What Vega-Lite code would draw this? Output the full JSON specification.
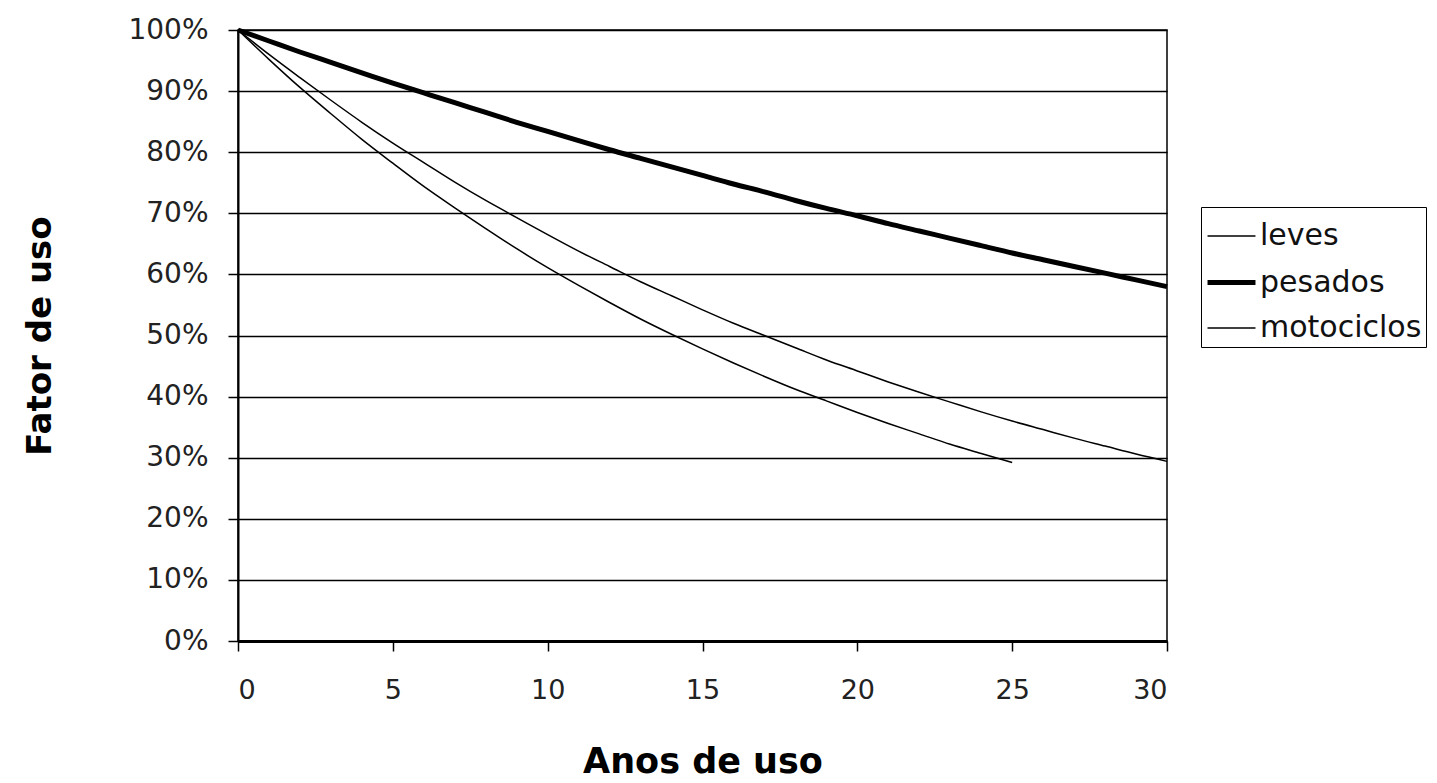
{
  "$schema": "https://vega.github.io/schema/vega-lite/v6.json",
  "autosize": "none",
  "width": 929,
  "height": 611,
  "padding": {"left": 238, "top": 30, "right": 270, "bottom": 142},
  "background": "white",
  "config": {
    "view": {"stroke": "black", "strokeWidth": 1.5},
    "font": "DejaVu Sans"
  },
  "datasets": {
    "d": [
      {"anos": 0, "fator": 1.0, "tipo": "leves"},
      {"anos": 1, "fator": 0.96, "tipo": "leves"},
      {"anos": 2, "fator": 0.922, "tipo": "leves"},
      {"anos": 3, "fator": 0.885, "tipo": "leves"},
      {"anos": 4, "fator": 0.849, "tipo": "leves"},
      {"anos": 5, "fator": 0.815, "tipo": "leves"},
      {"anos": 6, "fator": 0.783, "tipo": "leves"},
      {"anos": 7, "fator": 0.751, "tipo": "leves"},
      {"anos": 8, "fator": 0.721, "tipo": "leves"},
      {"anos": 9, "fator": 0.693, "tipo": "leves"},
      {"anos": 10, "fator": 0.665, "tipo": "leves"},
      {"anos": 11, "fator": 0.638, "tipo": "leves"},
      {"anos": 12, "fator": 0.613, "tipo": "leves"},
      {"anos": 13, "fator": 0.588, "tipo": "leves"},
      {"anos": 14, "fator": 0.565, "tipo": "leves"},
      {"anos": 15, "fator": 0.542, "tipo": "leves"},
      {"anos": 16, "fator": 0.52, "tipo": "leves"},
      {"anos": 17, "fator": 0.5, "tipo": "leves"},
      {"anos": 18, "fator": 0.48, "tipo": "leves"},
      {"anos": 19, "fator": 0.46, "tipo": "leves"},
      {"anos": 20, "fator": 0.442, "tipo": "leves"},
      {"anos": 21, "fator": 0.424, "tipo": "leves"},
      {"anos": 22, "fator": 0.407, "tipo": "leves"},
      {"anos": 23, "fator": 0.391, "tipo": "leves"},
      {"anos": 24, "fator": 0.375, "tipo": "leves"},
      {"anos": 25, "fator": 0.36, "tipo": "leves"},
      {"anos": 26, "fator": 0.346, "tipo": "leves"},
      {"anos": 27, "fator": 0.332, "tipo": "leves"},
      {"anos": 28, "fator": 0.319, "tipo": "leves"},
      {"anos": 29, "fator": 0.306, "tipo": "leves"},
      {"anos": 30, "fator": 0.294, "tipo": "leves"},
      {"anos": 0, "fator": 1.0, "tipo": "pesados"},
      {"anos": 1, "fator": 0.982, "tipo": "pesados"},
      {"anos": 2, "fator": 0.964, "tipo": "pesados"},
      {"anos": 3, "fator": 0.947, "tipo": "pesados"},
      {"anos": 4, "fator": 0.93, "tipo": "pesados"},
      {"anos": 5, "fator": 0.913, "tipo": "pesados"},
      {"anos": 6, "fator": 0.897, "tipo": "pesados"},
      {"anos": 7, "fator": 0.881, "tipo": "pesados"},
      {"anos": 8, "fator": 0.865, "tipo": "pesados"},
      {"anos": 9, "fator": 0.849, "tipo": "pesados"},
      {"anos": 10, "fator": 0.834, "tipo": "pesados"},
      {"anos": 11, "fator": 0.819, "tipo": "pesados"},
      {"anos": 12, "fator": 0.804, "tipo": "pesados"},
      {"anos": 13, "fator": 0.79, "tipo": "pesados"},
      {"anos": 14, "fator": 0.776, "tipo": "pesados"},
      {"anos": 15, "fator": 0.762, "tipo": "pesados"},
      {"anos": 16, "fator": 0.748, "tipo": "pesados"},
      {"anos": 17, "fator": 0.735, "tipo": "pesados"},
      {"anos": 18, "fator": 0.721, "tipo": "pesados"},
      {"anos": 19, "fator": 0.708, "tipo": "pesados"},
      {"anos": 20, "fator": 0.696, "tipo": "pesados"},
      {"anos": 21, "fator": 0.683, "tipo": "pesados"},
      {"anos": 22, "fator": 0.671, "tipo": "pesados"},
      {"anos": 23, "fator": 0.659, "tipo": "pesados"},
      {"anos": 24, "fator": 0.647, "tipo": "pesados"},
      {"anos": 25, "fator": 0.635, "tipo": "pesados"},
      {"anos": 26, "fator": 0.624, "tipo": "pesados"},
      {"anos": 27, "fator": 0.613, "tipo": "pesados"},
      {"anos": 28, "fator": 0.602, "tipo": "pesados"},
      {"anos": 29, "fator": 0.591, "tipo": "pesados"},
      {"anos": 30, "fator": 0.58, "tipo": "pesados"},
      {"anos": 0, "fator": 1.0, "tipo": "motociclos"},
      {"anos": 1, "fator": 0.952, "tipo": "motociclos"},
      {"anos": 2, "fator": 0.906, "tipo": "motociclos"},
      {"anos": 3, "fator": 0.863, "tipo": "motociclos"},
      {"anos": 4, "fator": 0.821, "tipo": "motociclos"},
      {"anos": 5, "fator": 0.782, "tipo": "motociclos"},
      {"anos": 6, "fator": 0.744, "tipo": "motociclos"},
      {"anos": 7, "fator": 0.709, "tipo": "motociclos"},
      {"anos": 8, "fator": 0.675, "tipo": "motociclos"},
      {"anos": 9, "fator": 0.642, "tipo": "motociclos"},
      {"anos": 10, "fator": 0.611, "tipo": "motociclos"},
      {"anos": 11, "fator": 0.582, "tipo": "motociclos"},
      {"anos": 12, "fator": 0.554, "tipo": "motociclos"},
      {"anos": 13, "fator": 0.527, "tipo": "motociclos"},
      {"anos": 14, "fator": 0.502, "tipo": "motociclos"},
      {"anos": 15, "fator": 0.478, "tipo": "motociclos"},
      {"anos": 16, "fator": 0.455, "tipo": "motociclos"},
      {"anos": 17, "fator": 0.433, "tipo": "motociclos"},
      {"anos": 18, "fator": 0.412, "tipo": "motociclos"},
      {"anos": 19, "fator": 0.393, "tipo": "motociclos"},
      {"anos": 20, "fator": 0.374, "tipo": "motociclos"},
      {"anos": 21, "fator": 0.356, "tipo": "motociclos"},
      {"anos": 22, "fator": 0.339, "tipo": "motociclos"},
      {"anos": 23, "fator": 0.322, "tipo": "motociclos"},
      {"anos": 24, "fator": 0.307, "tipo": "motociclos"},
      {"anos": 25, "fator": 0.292, "tipo": "motociclos"}
    ]
  },
  "data": {"name": "d"},
  "mark": {"type": "line", "interpolate": "monotone"},
  "encoding": {
    "x": {
      "field": "anos",
      "type": "quantitative",
      "scale": {"domain": [0, 30], "nice": false, "zero": false},
      "axis": {
        "title": "Anos de uso",
        "values": [0, 5, 10, 15, 20, 25, 30],
        "grid": false,
        "domainColor": "black",
        "domainWidth": 3,
        "tickColor": "black",
        "tickWidth": 1.5,
        "tickSize": 10,
        "labelPadding": 26,
        "labelFontSize": 27,
        "labelColor": "#222",
        "titleFont": "DejaVu Sans",
        "titleFontWeight": "bold",
        "titleFontSize": 35,
        "titleColor": "black",
        "titlePadding": 41
      }
    },
    "y": {
      "field": "fator",
      "type": "quantitative",
      "scale": {"domain": [0, 1], "nice": false},
      "axis": {
        "title": "Fator de uso",
        "format": ".0%",
        "values": [0, 0.1, 0.2, 0.3, 0.4, 0.5, 0.6, 0.7, 0.8, 0.9, 1.0],
        "grid": true,
        "gridColor": "black",
        "gridWidth": 1.5,
        "gridOpacity": 1,
        "domainColor": "black",
        "domainWidth": 2,
        "tickColor": "black",
        "tickWidth": 1.5,
        "tickSize": 10,
        "labelPadding": 20,
        "labelFontSize": 28,
        "labelColor": "#222",
        "titleFont": "DejaVu Sans",
        "titleFontWeight": "bold",
        "titleFontSize": 34,
        "titleColor": "black",
        "titlePadding": 70
      }
    },
    "color": {
      "field": "tipo",
      "type": "nominal",
      "scale": {"domain": ["leves", "pesados", "motociclos"], "range": ["black", "black", "black"]},
      "legend": {
        "title": null,
        "orient": "none",
        "legendX": 963,
        "legendY": 177,
        "symbolType": "stroke",
        "symbolSize": 2300,
        "labelFont": "DejaVu Sans",
        "labelFontSize": 30,
        "labelLimit": 400,
        "labelColor": "#111",
        "labelOffset": 2,
        "rowPadding": 5,
        "strokeColor": "black",
        "padding": 4,
        "fillColor": "white"
      }
    },
    "strokeWidth": {
      "field": "tipo",
      "type": "nominal",
      "scale": {"type": "ordinal", "domain": ["leves", "pesados", "motociclos"], "range": [1.5, 5, 1.5]},
      "legend": {
        "title": null,
        "orient": "none",
        "legendX": 963,
        "legendY": 177,
        "symbolType": "stroke",
        "symbolSize": 2300,
        "labelFont": "DejaVu Sans",
        "labelFontSize": 30,
        "labelLimit": 400,
        "labelColor": "#111",
        "labelOffset": 2,
        "rowPadding": 5,
        "strokeColor": "black",
        "padding": 4,
        "fillColor": "white"
      }
    }
  }
}
